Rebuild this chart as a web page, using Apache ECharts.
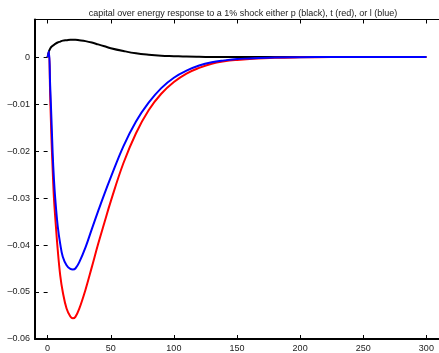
<!DOCTYPE html>
<html lang="en">
<head>
    <meta charset="UTF-8">
    <title>capital over energy response</title>
    <script src="https://cdn.jsdelivr.net/npm/echarts@6/dist/echarts.min.js"></script>
    <style>
        html, body {
            margin: 0;
            padding: 0;
            background: #fff;
        }
        #charts {
            width: 439px;
            height: 353px;
        }
    </style>
</head>
<body>
<div id="charts"></div>

<script>
    // periods after the shock
    var periods = [0, 1, 2, 3, 4, 5, 6, 8, 10, 12, 15, 18, 20, 22, 25, 30, 35, 40, 45, 50,
        60, 70, 80, 90, 100, 110, 120, 130, 140, 150, 160, 180, 200, 225, 250, 275, 300];
    // shock on p (black)
    var pValues = [0, 0.0012, 0.0018, 0.0022, 0.0024, 0.0026, 0.0028, 0.0031, 0.0033, 0.0035, 0.0036, 0.0037, 0.0037, 0.0037, 0.0036,
        0.0034, 0.0031, 0.0027, 0.0023, 0.0019, 0.0013, 0.0008, 0.0005, 0.0003, 0.0002, 0.0001, 0.00005, 0.00002, 0.00001, 0,
        0, 0, 0, 0, 0, 0, 0];
    // shock on t (red)
    var tValues = [0, 0.001, -0.008, -0.017, -0.024, -0.03, -0.034, -0.041, -0.0465, -0.05, -0.0535, -0.0552, -0.0556, -0.0553, -0.0536,
        -0.0495, -0.0447, -0.0398, -0.0352, -0.0307, -0.0226, -0.0162, -0.0113, -0.0078, -0.0053, -0.0035, -0.0023, -0.0014, -0.0009, -0.0006,
        -0.0004, -0.00015, -0.00005, 0, 0, 0, 0];
    // shock on l (blue)
    var lValues = [0, 0.0012, -0.006, -0.013, -0.0205, -0.026, -0.030, -0.036, -0.0398, -0.0425, -0.0443, -0.0451, -0.0452, -0.045, -0.0437,
        -0.0405, -0.0366, -0.0328, -0.0291, -0.0256, -0.019, -0.0137, -0.0097, -0.0066, -0.0044, -0.0029, -0.0018, -0.0011, -0.0007, -0.0004,
        -0.0003, -0.0001, -0.00003, 0, 0, 0, 0];
    // tick values
    var xTicks = [0, 50, 100, 150, 200, 250, 300];
    var yTicks = [-0.06, -0.05, -0.04, -0.03, -0.02, -0.01, 0];

    var chart = document.getElementById('charts');
    var myChart = echarts.init(chart);

    var font = 'Liberation Sans, Arial, sans-serif';

    function pairs(values) {
        return periods.map(function (t, i) {
            return [t, values[i]];
        });
    }

    function yLabel(v) {
        if (Math.abs(v) < 1e-9) {
            return '0';
        }
        return v.toFixed(2).replace('-', '\u2013');
    }

    function line(name, values, color) {
        return {
            name: name,
            type: 'line',
            data: pairs(values),
            showSymbol: false,
            smooth: 0.4,
            lineStyle: {
                color: color,
                width: 2
            },
            itemStyle: {color: color}
        };
    }

    var option = {
        animation: false,
        backgroundColor: '#fff',
        title: {
            text: 'capital over energy response to a 1% shock either p (black), t (red), or l (blue)',
            left: 238,
            textAlign: 'center',
            top: 4,
            textStyle: {
                fontFamily: font,
                fontSize: 9,
                fontWeight: 'normal',
                color: '#222'
            }
        },
        grid: {
            left: 35,
            top: 19.5,
            width: 406,
            height: 321
        },
        xAxis: [
            {
                type: 'value',
                min: -10,
                max: 310,
                position: 'bottom',
                axisLine: {show: true, onZero: false, lineStyle: {color: '#000', width: 2}},
                axisTick: {show: true, inside: true, length: 4, customValues: xTicks, lineStyle: {color: '#000'}},
                axisLabel: {
                    customValues: xTicks,
                    margin: 5,
                    fontFamily: font,
                    fontSize: 9,
                    color: '#222'
                },
                splitLine: {show: false}
            },
            {
                type: 'value',
                min: -10,
                max: 310,
                position: 'top',
                axisLine: {show: true, onZero: false, lineStyle: {color: '#000', width: 1}},
                axisTick: {show: true, inside: true, length: 4, customValues: xTicks, lineStyle: {color: '#000'}},
                axisLabel: {show: false},
                splitLine: {show: false}
            }
        ],
        yAxis: [
            {
                type: 'value',
                min: -0.06,
                max: 0.008,
                position: 'left',
                axisLine: {show: true, onZero: false, lineStyle: {color: '#000', width: 2}},
                axisTick: {show: true, inside: true, length: 4, customValues: yTicks, lineStyle: {color: '#000'}},
                axisLabel: {
                    customValues: yTicks,
                    margin: 5,
                    fontFamily: font,
                    fontSize: 9,
                    color: '#222',
                    formatter: yLabel
                },
                splitLine: {show: false}
            },
            {
                type: 'value',
                min: -0.06,
                max: 0.008,
                position: 'right',
                axisLine: {show: false},
                axisTick: {show: true, inside: true, length: 4, customValues: yTicks, lineStyle: {color: '#000'}},
                axisLabel: {show: false},
                splitLine: {show: false}
            }
        ],
        series: [
            line('p', pValues, '#000000'),
            line('t', tValues, '#ff0000'),
            line('l', lValues, '#0000ff')
        ]
    };

    myChart.setOption(option);
</script>
</body>
</html>
